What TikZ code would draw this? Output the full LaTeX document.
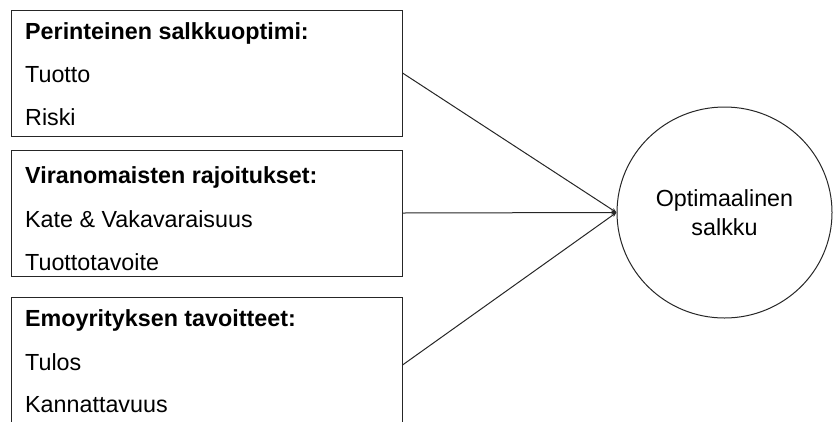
\documentclass[tikz,border=0pt]{standalone}
\usepackage{fontspec}
\setmainfont{Liberation Sans}
\usetikzlibrary{shapes.geometric,arrows.meta}
\begin{document}
\begin{tikzpicture}[x=1pt,y=-1pt,
  box/.style={draw=black!85,line width=1pt,rectangle,inner sep=0pt},
  txt/.style={anchor=base west,inner sep=0pt,font=\fontsize{23.3}{28}\selectfont},
  ttl/.style={txt,font=\fontsize{23.3}{28}\selectfont\bfseries},
  conn/.style={draw=black!85,line width=1pt,-{Stealth[length=5pt,width=4pt]}}]
\useasboundingbox (0,0) rectangle (834,421);
% boxes
\node[box,minimum width=391pt,minimum height=126pt] (b1) at (206.5,73) {};
\node[box,minimum width=391pt,minimum height=126pt] (b2) at (206.5,213) {};
\node[box,minimum width=391pt,minimum height=136pt] (b3) at (206.5,365) {};
% texts
\node[ttl] (t1) at (25,39) {Perinteinen salkkuoptimi:};
\node[txt] (t1a) at (25,82) {Tuotto};
\node[txt] (t1b) at (25,125) {Riski};
\node[ttl] (t2) at (25,183) {Viranomaisten rajoitukset:};
\node[txt] (t2a) at (25,227) {Kate \& Vakavaraisuus};
\node[txt] (t2b) at (25,270) {Tuottotavoite};
\node[ttl] (t3) at (25,326) {Emoyrityksen tavoitteet:};
\node[txt] (t3a) at (25,370) {Tulos};
\node[txt] (t3b) at (25,412) {Kannattavuus};
% circle
\node[draw=black!85,line width=1pt,ellipse,minimum width=215pt,minimum height=211pt,inner sep=0pt,
      align=center,font=\fontsize{23.3}{29}\selectfont] (c) at (724.5,212.5) {Optimaalinen\\salkku};
% connectors
\draw[conn] (b1.east) -- (c.west);
\draw[conn] (b2.east) -- (c.west);
\draw[conn] (b3.east) -- (c.west);
\end{tikzpicture}
\end{document}
